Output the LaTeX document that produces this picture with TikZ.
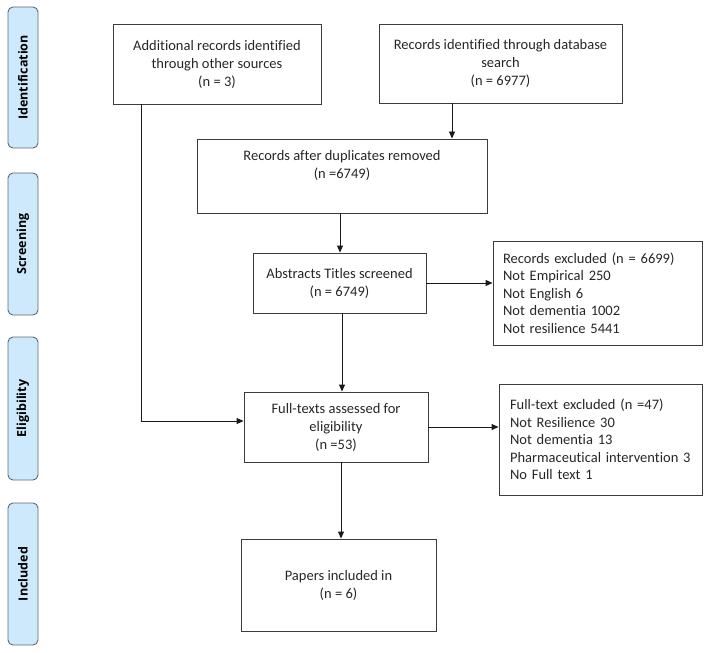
\documentclass[tikz,border=0pt]{standalone}
\usepackage{fontspec}
\setmainfont{Carlito}[Ligatures=NoCommon]
\newfontfamily\sidefont{Open Sans}[Ligatures=NoCommon]
\usetikzlibrary{arrows.meta}
\definecolor{sidefill}{RGB}{205,233,251}
\definecolor{sidedraw}{RGB}{95,105,115}
\definecolor{linecol}{RGB}{60,60,60}
\begin{document}
\begin{tikzpicture}[x=1pt,y=-1pt,
  box/.style={draw=linecol, line width=0.9pt, inner sep=0pt, align=center,
     font=\fontsize{14.5}{18}\selectfont, text=black!85},
  lbox/.style={draw=linecol, line width=0.9pt, inner sep=0pt,
     font=\fontsize{14.5}{17.6}\selectfont, text=black!85},
  side/.style={draw=sidedraw, fill=sidefill, line width=0.9pt, rounded corners=5pt,
     minimum width=30pt, inner sep=0pt},
  sidelabel/.style={rotate=90, font=\sidefont\bfseries\fontsize{12.5}{14}\selectfont, text=black},
  arr/.style={draw=black!90, line width=0.9pt, -{Triangle[length=7pt,width=6pt]}}]
\useasboundingbox (0,0) rectangle (708,652);
% phase bars
\node[side, minimum height=141pt] (s1) at (23,77.5) {};
\node[sidelabel] (t1) at (s1) {Identification};
\node[side, minimum height=142pt] (s2) at (23,244) {};
\node[sidelabel] (t2) at (s2) {Screening};
\node[side, minimum height=143pt] (s3) at (23,408.5) {};
\node[sidelabel] (t3) at (s3) {Eligibility};
\node[side, minimum height=142pt] (s4) at (23,574) {};
\node[sidelabel] (t4) at (s4) {Included};
% boxes
\node[box, minimum width=208pt, minimum height=80pt] (a) at (217,64)
  {Additional records identified\\through other sources\\(n = 3)};
\node[box, minimum width=243pt, minimum height=79pt] (b) at (500.5,63.5)
  {Records identified through database\\search\\(n = 6977)};
\node[box, minimum width=290pt, minimum height=74pt] (c) at (342,176)
  {Records after duplicates removed\\(n =6749)\\\strut};
\node[box, minimum width=173pt, minimum height=60pt] (d) at (339.5,283)
  {Abstracts Titles screened\\(n = 6749)};
\node[lbox, minimum width=209pt, minimum height=104pt, text width=189pt, align=left] (e) at (597.5,293)
  {Records excluded (n = 6699)\\Not Empirical 250\\Not English 6\\Not dementia 1002\\Not resilience 5441};
\node[lbox, minimum width=203pt, minimum height=111pt, text width=181pt, align=left] (g) at (600.5,439.5)
  {Full-text excluded (n =47)\\Not Resilience 30\\Not dementia 13\\\mbox{Pharmaceutical intervention 3}\\No Full text 1};
\node[box, minimum width=184pt, minimum height=70pt] (f) at (336,427)
  {Full-texts assessed for\\eligibility\\(n =53)};
\node[box, minimum width=195pt, minimum height=92pt] (h) at (338.5,585)
  {Papers included in\\(n = 6)};
% connectors
\draw[arr] ([xshift=-48.5pt]b.south) -- ([xshift=-48.5pt]b.south |- c.north);
\draw[arr] ([xshift=-2pt]c.south) -- ([xshift=-2pt]c.south |- d.north);
\draw[arr] (d.east) -- (d.east -| e.west);
\draw[arr] ([xshift=2.5pt]d.south) -- ([xshift=2.5pt]d.south |- f.north);
\draw[arr] ([xshift=-76pt]a.south) |- ([yshift=6pt]f.west);
\draw[arr] (f.east) -- (f.east -| g.west);
\draw[arr] ([xshift=5pt]f.south) -- ([xshift=5pt]f.south |- h.north);
\end{tikzpicture}
\end{document}
